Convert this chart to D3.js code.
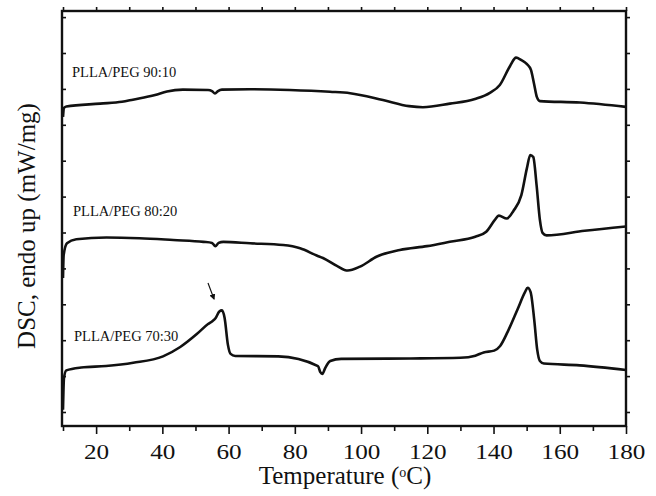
<!DOCTYPE html>
<html lang="en">
<head>
<meta charset="utf-8">
<title>DSC thermograms PLLA/PEG</title>
<script src="https://d3js.org/d3.v7.min.js"></script>
<style type="text/css">
  body { margin: 0; background: #fff; }
  text { font-family: "Liberation Serif", "Times New Roman", serif; fill: #111; }
</style>
</head>
<body>
<script type="text/javascript">
// curve data: temperature (C) and heat flow (arbitrary offset, mW/mg)
var temp90 = [10, 10.3, 11, 21.2, 27.8, 31.1, 37.8, 41.4, 46.2, 53.8, 55, 55.9, 56.8, 58, 66.5, 78.5, 90.6, 96.7, 106.6, 114.5, 118.7, 126.8, 134.4, 138.9, 141.9, 145, 146.8, 148.3, 150.1, 151.3, 152.2, 153.1, 154, 166.1, 180];
var dsc90 = [8.22, 8.47, 8.51, 8.59, 8.64, 8.70, 8.83, 8.93, 8.98, 8.97, 8.94, 8.87, 8.94, 8.98, 8.99, 8.97, 8.92, 8.88, 8.69, 8.52, 8.49, 8.59, 8.72, 8.89, 9.11, 9.64, 9.87, 9.81, 9.69, 9.53, 9.16, 8.77, 8.66, 8.62, 8.50];

var temp80 = [10, 10.2, 11.2, 14, 23.1, 33.1, 43.3, 52.4, 55, 56, 57, 58.4, 66.5, 76.5, 81.6, 86.6, 88.5, 92.7, 96, 99.7, 104.8, 111.7, 119.9, 126.8, 134.5, 137.8, 140.4, 141.6, 144, 146, 148.4, 150.1, 151.1, 152, 153, 154, 154.8, 156, 167.5, 180];
var dsc80 = [3.73, 4.37, 4.70, 4.81, 4.86, 4.84, 4.79, 4.74, 4.71, 4.62, 4.71, 4.74, 4.70, 4.65, 4.56, 4.36, 4.29, 4.07, 3.94, 4.05, 4.33, 4.51, 4.62, 4.74, 4.88, 5.02, 5.35, 5.47, 5.39, 5.60, 6.04, 6.80, 7.16, 7.10, 6.32, 5.35, 4.99, 4.92, 5.05, 5.17];

var temp70 = [10, 10.3, 11, 15.5, 23, 31.2, 40.2, 45.4, 50.4, 53.8, 55.1, 56.1, 57.2, 58, 58.8, 59.8, 60.6, 62, 75, 87, 87.7, 88.3, 89.2, 90.7, 94, 115, 130, 134.5, 137, 140.2, 142, 144.3, 147.3, 149.5, 150.3, 151.2, 152.3, 153.2, 154, 155.2, 166, 180];
var dsc70 = [0.06, 0.95, 1.16, 1.24, 1.28, 1.37, 1.55, 1.81, 2.17, 2.45, 2.53, 2.62, 2.80, 2.83, 2.62, 1.87, 1.62, 1.56, 1.55, 1.28, 1.11, 1.06, 1.23, 1.42, 1.48, 1.49, 1.51, 1.57, 1.66, 1.71, 1.84, 2.24, 2.87, 3.34, 3.46, 3.34, 2.56, 1.73, 1.42, 1.35, 1.30, 1.17];

var seriesNames = ["PLLA/PEG 90:10", "PLLA/PEG 80:20", "PLLA/PEG 70:30"];
var xTicks = [20, 40, 60, 80, 100, 120, 140, 160, 180];
var xMinorTicks = [10, 30, 50, 70, 90, 110, 130, 150, 170];
var yTicks = [0, 1, 2, 3, 4, 5, 6, 7, 8, 9, 10, 11];

var width = 656, height = 496;

var x = d3.scaleLinear().domain([10, 180]).range([63, 626]);
var y = d3.scaleLinear().domain([-0.39, 11.17]).range([426, 11]);

var svg = d3.select("body").append("svg")
  .attr("width", width)
  .attr("height", height);

// axes
var axBottom = svg.append("g").attr("transform", "translate(0,426)");
axBottom.call(d3.axisBottom(x).tickValues(xTicks).tickSize(8).tickFormat(d3.format("d")));
axBottom.append("g").call(d3.axisBottom(x).tickValues(xMinorTicks).tickSize(5).tickFormat(""));

var axTop = svg.append("g").attr("transform", "translate(0,11)");
axTop.call(d3.axisTop(x).tickValues(xTicks.concat(xMinorTicks)).tickSize(4).tickFormat(""));

var axLeft = svg.append("g").attr("transform", "translate(62,0)");
axLeft.call(d3.axisRight(y).tickValues(yTicks).tickSize(4).tickFormat(""));

var axRight = svg.append("g").attr("transform", "translate(626,0)");
axRight.call(d3.axisRight(y).tickValues(yTicks).tickSize(4).tickFormat(""));

svg.selectAll(".domain").remove();
svg.selectAll(".tick line").attr("stroke", "#111").attr("stroke-width", 1.6);
// the original figure is slightly stretched sideways, so widen the digits a bit
axBottom.selectAll(".tick text")
  .attr("dy", null)
  .attr("y", 0)
  .attr("transform", "translate(0,33) scale(1.2,1)")
  .style("font-family", "Liberation Serif, serif")
  .style("font-size", "21px")
  .attr("fill", "#111");

// frame
svg.append("rect")
  .attr("x", 62).attr("y", 11)
  .attr("width", 564).attr("height", 415)
  .attr("fill", "none")
  .attr("stroke", "#111")
  .attr("stroke-width", 2.4);

// curves
var line = d3.line()
  .x(function(d) { return x(d[0]); })
  .y(function(d) { return y(d[1]); })
  .curve(d3.curveMonotoneX);

var curves = [d3.zip(temp90, dsc90), d3.zip(temp80, dsc80), d3.zip(temp70, dsc70)];

svg.selectAll("path.curve")
  .data(curves)
  .enter()
  .append("path")
  .attr("class", "curve")
  .attr("d", line)
  .attr("fill", "none")
  .attr("stroke", "#111")
  .attr("stroke-width", 2.6)
  .attr("stroke-linejoin", "round");

// curve labels
var labelPos = [[72, 77], [73, 216], [74, 341]];
svg.selectAll("text.lbl")
  .data(seriesNames)
  .enter()
  .append("text")
  .attr("class", "lbl")
  .attr("x", function(d, i) { return labelPos[i][0]; })
  .attr("y", function(d, i) { return labelPos[i][1]; })
  .style("font-size", "14.5px")
  .text(function(d) { return d; });

// arrow marking PEG melting shoulder
svg.append("defs").append("marker")
  .attr("id", "head")
  .attr("viewBox", "0 0 10 10")
  .attr("refX", 8).attr("refY", 5)
  .attr("markerWidth", 5).attr("markerHeight", 5)
  .attr("orient", "auto")
  .append("path")
  .attr("d", "M0,0 L10,5 L0,10 z")
  .attr("fill", "#111");

svg.append("line")
  .attr("x1", 208).attr("y1", 283)
  .attr("x2", 214).attr("y2", 299)
  .attr("stroke", "#111")
  .attr("stroke-width", 1.2)
  .attr("marker-end", "url(#head)");

// axis titles
var xt = svg.append("text")
  .attr("x", 345)
  .attr("y", 484)
  .attr("text-anchor", "middle")
  .style("font-size", "25px");
xt.append("tspan").text("Temperature (");
xt.append("tspan").attr("baseline-shift", "super").style("font-size", "14px").text("o");
xt.append("tspan").text("C)");

svg.append("text")
  .attr("transform", "translate(35,226) rotate(-90)")
  .attr("text-anchor", "middle")
  .style("font-size", "25px")
  .text("DSC, endo up (mW/mg)");
</script>
</body>
</html>
